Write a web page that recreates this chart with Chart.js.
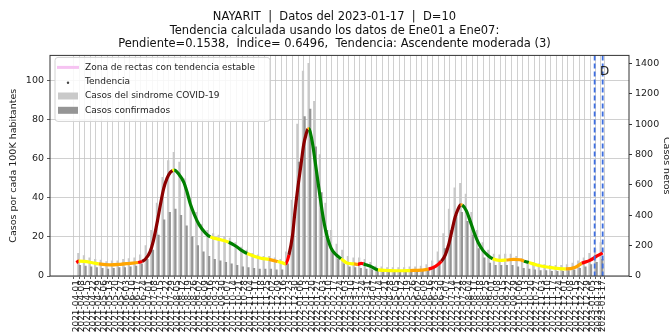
<!DOCTYPE html>
<html>
<head>
<meta charset="utf-8">
<title>NAYARIT tendencia</title>
<script src="https://cdn.jsdelivr.net/npm/chart.js@4.4.1/dist/chart.umd.min.js"></script>
<style>
  body { margin: 0; background: #fff; }
  #wrap { width: 669px; height: 334px; }
</style>
</head>
<body>
<div id="wrap"><canvas id="myChart"></canvas></div>
<script>
'use strict';
/*------------- data -------------*/
const titleLines = [
  'NAYARIT  |  Datos del 2023-01-17  |  D=10',
  'Tendencia calculada usando los datos de Ene01 a Ene07:',
  'Pendiente=0.1538,  Índice= 0.6496,  Tendencia: Ascendente moderada (3)'
];
const tickLabels = [
  '2021-04-01', '2021-04-08', '2021-04-15', '2021-04-22', '2021-04-29', '2021-05-06', '2021-05-13', '2021-05-20', '2021-05-27',
  '2021-06-03', '2021-06-10', '2021-06-17', '2021-06-24', '2021-07-01', '2021-07-08', '2021-07-15', '2021-07-22', '2021-07-29',
  '2021-08-05', '2021-08-12', '2021-08-19', '2021-08-26', '2021-09-02', '2021-09-09', '2021-09-16', '2021-09-23', '2021-09-30',
  '2021-10-07', '2021-10-14', '2021-10-21', '2021-10-28', '2021-11-04', '2021-11-11', '2021-11-18', '2021-11-25', '2021-12-02',
  '2021-12-09', '2021-12-16', '2021-12-23', '2021-12-30', '2022-01-06', '2022-01-13', '2022-01-20', '2022-01-27', '2022-02-03',
  '2022-02-10', '2022-02-17', '2022-02-24', '2022-03-03', '2022-03-10', '2022-03-17', '2022-03-24', '2022-03-31', '2022-04-07',
  '2022-04-14', '2022-04-21', '2022-04-28', '2022-05-05', '2022-05-12', '2022-05-19', '2022-05-26', '2022-06-02', '2022-06-09',
  '2022-06-16', '2022-06-23', '2022-06-30', '2022-07-07', '2022-07-14', '2022-07-21', '2022-07-28', '2022-08-04', '2022-08-11',
  '2022-08-18', '2022-08-25', '2022-09-01', '2022-09-08', '2022-09-15', '2022-09-22', '2022-09-29', '2022-10-06', '2022-10-13',
  '2022-10-20', '2022-10-27', '2022-11-03', '2022-11-10', '2022-11-17', '2022-11-24', '2022-12-01', '2022-12-08', '2022-12-15',
  '2022-12-22', '2022-12-29', '2023-01-05', '2023-01-12', '2023-01-17'
];
const leftTicks = [0, 20, 40, 60, 80, 100];
const rightTicks = [0, 200, 400, 600, 800, 1000, 1200, 1400];
// trend (casos por cada 100K) : day since 2021-04-01, value, colour code
const trendDay = [0, 3, 10, 20, 28, 42, 55, 67, 77, 82, 86, 92, 96, 101, 105, 109, 113, 117, 120, 122,
  128, 134, 138, 142, 147, 153, 161, 167, 180, 190, 198, 205, 213, 230, 240, 251, 258, 261, 265, 269.5,
  272.5, 276, 280, 283.5, 286.5, 288.5, 290, 291.5, 294.5, 297.5, 301, 304, 307, 311, 317.5, 324, 330, 338, 346, 351,
  355, 358, 361, 367.5, 373, 376, 390, 405, 416, 430, 439, 447, 455, 460, 464, 468, 472, 476, 479, 481,
  486, 491, 496, 501, 507, 513, 519, 527, 536, 545, 553, 558, 564, 575, 590, 602, 610, 622, 630, 640,
  648, 656];
const trendValue = [6.9, 7.6, 7.5, 6.8, 6.2, 5.7, 6.0, 6.5, 6.9, 7.5, 8.6, 12.5, 18, 28, 37, 45, 50, 53, 54, 54.2,
  52, 48, 43, 37, 31.5, 26.3, 22, 20, 18.6, 17.3, 15.5, 13.4, 11.5, 9.1, 8.5, 7.4, 6.6, 6.2, 10.8, 21,
  33, 45, 57, 67.6, 72.8, 75.2, 75.4, 73.7, 67.6, 59, 48.7, 40, 31.5, 22.9, 14.3, 10.8, 8.8, 6.5, 6.2, 6.0,
  6.5, 6.2, 5.7, 4.8, 3.6, 3.1, 2.8, 2.7, 2.8, 3.0, 3.5, 4.8, 7.5, 11, 16, 23, 30, 34.5, 36.5, 36.3,
  33.5, 28, 22, 17, 13, 10.5, 8.8, 8.0, 8.2, 8.5, 8.3, 7.6, 6.9, 5.5, 4.4, 3.8, 3.6, 4.5, 6.5, 8,
  10, 11.8];
const trendTone = ['R', 'Y', 'Y', 'Y', 'O', 'O', 'O', 'O', 'R', 'D', 'D', 'D', 'D', 'D', 'D', 'D', 'D', 'D', 'Y', 'G',
  'G', 'G', 'G', 'G', 'G', 'G', 'G', 'Y', 'Y', 'G', 'G', 'G', 'Y', 'Y', 'O', 'Y', 'Y', 'R', 'D', 'D',
  'D', 'D', 'D', 'D', 'D', 'O', 'G', 'G', 'G', 'G', 'G', 'G', 'G', 'G', 'G', 'G', 'Y', 'Y', 'O', 'R',
  'R', 'G', 'G', 'G', 'G', 'Y', 'Y', 'Y', 'O', 'O', 'R', 'R', 'D', 'D', 'D', 'D', 'D', 'D', 'O', 'G',
  'G', 'G', 'G', 'G', 'G', 'G', 'Y', 'Y', 'O', 'O', 'O', 'G', 'Y', 'Y', 'Y', 'Y', 'O', 'O', 'R', 'R',
  'R', 'R'];
// weekly cases (casos netos)
const syndromeCases = [150, 135, 120, 110, 105, 95, 100, 100, 110, 115, 120, 140, 200, 300, 480, 650, 760, 815, 750, 640,
  520, 420, 340, 300, 280, 270, 260, 250, 220, 190, 170, 150, 140, 130, 130, 120, 110, 160, 500, 1000,
  1350, 1400, 1150, 800, 480, 300, 210, 170, 130, 120, 120, 110, 90, 65, 60, 55, 55, 55, 55, 60,
  60, 65, 75, 100, 160, 280, 440, 580, 610, 540, 420, 300, 220, 170, 145, 140, 145, 145, 130, 115,
  100, 90, 80, 75, 70, 70, 70, 75, 85, 100, 120, 150, 180, 220];
const confirmedCases = [70, 65, 60, 55, 50, 45, 50, 55, 55, 60, 65, 80, 110, 170, 270, 370, 420, 440, 400, 330,
  260, 200, 160, 130, 110, 100, 90, 80, 70, 60, 55, 50, 45, 45, 45, 40, 40, 80, 330, 750,
  1050, 1100, 850, 550, 300, 170, 110, 80, 60, 55, 50, 45, 40, 30, 25, 25, 25, 25, 25, 30,
  30, 30, 40, 55, 100, 180, 300, 400, 420, 360, 270, 180, 120, 85, 70, 70, 70, 70, 60, 50,
  45, 40, 35, 35, 30, 30, 30, 35, 40, 50, 60, 75, 90, 110];
const markerDates = ['2023-01-07', '2023-01-17'];
/*------------------------------------------------------*/
const toneColors = { D: '#8b0000', R: '#ff0000', O: '#ffa500', Y: '#ffff00', G: '#008000' };
const startTime = Date.parse(tickLabels[0]);
function dayOf(label) {
  return (Date.parse(label) - startTime) / 86400000;
}
const tickDays = tickLabels.map(dayOf);
const lastDay = tickDays[tickDays.length - 1];
const xPad = lastDay * 0.05; // matplotlib-like margins

let trendPoints = [];
for (let i = 0; i < trendDay.length; i++) {
  trendPoints.push({ x: trendDay[i], y: trendValue[i] });
}
let syndromePoints = [];
let confirmedPoints = [];
for (let i = 0; i < syndromeCases.length; i++) {
  syndromePoints.push({ x: tickDays[i] + 2.5, y: syndromeCases[i] });
  confirmedPoints.push({ x: tickDays[i] + 4.5, y: confirmedCases[i] });
}

Chart.defaults.font.family = "'DejaVu Sans', sans-serif";
Chart.defaults.color = '#222';

/******* spines, vertical markers and the boxed legend ********/
const extrasPlugin = {
  id: 'extras',
  afterDatasetsDraw(chart) {
    const ctx = chart.ctx;
    const a = chart.chartArea;
    const xs = chart.scales.x;
    ctx.save();
    // dashed blue lines
    ctx.strokeStyle = '#3d6ee0';
    ctx.lineWidth = 1.8;
    ctx.setLineDash([5, 3]);
    markerDates.forEach(function (d) {
      const px = xs.getPixelForValue(dayOf(d));
      ctx.beginPath();
      ctx.moveTo(px, a.top);
      ctx.lineTo(px, a.bottom);
      ctx.stroke();
    });
    ctx.setLineDash([]);
    ctx.fillStyle = '#222';
    ctx.font = "12px 'DejaVu Sans'";
    ctx.textAlign = 'center';
    ctx.textBaseline = 'middle';
    ctx.fillText('D', xs.getPixelForValue(dayOf(markerDates[1])) + 2, a.top + 16);
    // box around plot
    ctx.strokeStyle = '#333';
    ctx.lineWidth = 1;
    ctx.strokeRect(a.left, a.top, a.right - a.left, a.bottom - a.top);

    // legend
    const lx = a.left + 5;
    const ly = a.top + 2;
    const lw = 215;
    const lh = 64;
    ctx.fillStyle = 'rgba(255,255,255,0.85)';
    ctx.strokeStyle = '#d2d2d2';
    ctx.beginPath();
    ctx.roundRect(lx, ly, lw, lh, 3);
    ctx.fill();
    ctx.stroke();
    ctx.font = "9px 'DejaVu Sans'";
    ctx.textAlign = 'left';
    const sets = chart.data.datasets;
    for (let i = 0; i < sets.length; i++) {
      const ry = ly + 10 + i * 14.3;
      const ds = sets[i];
      if (ds.legendKind === 'line') {
        ctx.strokeStyle = ds.borderColor;
        ctx.lineWidth = 3;
        ctx.beginPath();
        ctx.moveTo(lx + 2, ry);
        ctx.lineTo(lx + 24, ry);
        ctx.stroke();
      } else if (ds.legendKind === 'dot') {
        ctx.fillStyle = '#444';
        ctx.beginPath();
        ctx.arc(lx + 13, ry + 1, 1.2, 0, Math.PI * 2);
        ctx.fill();
      } else {
        ctx.fillStyle = ds.backgroundColor;
        ctx.fillRect(lx + 3, ry - 3.5, 20, 7);
      }
      ctx.fillStyle = '#222';
      ctx.fillText(ds.label, lx + 30, ry);
    }
    ctx.restore();
  }
};

function useTicks(values) {
  return function (scale) {
    scale.ticks = values.map(v => ({ value: v }));
  };
}

let ctx = document.getElementById('myChart').getContext('2d');
let chart = new Chart(ctx, {
  type: 'bar',
  data: {
    datasets: [
      {
        type: 'line',
        label: 'Zona de rectas con tendencia estable',
        legendKind: 'line',
        data: [],
        borderColor: '#f6c3f2',
        yAxisID: 'y'
      },
      {
        type: 'line',
        label: 'Tendencia',
        legendKind: 'dot',
        data: trendPoints,
        yAxisID: 'y',
        order: 0,
        borderWidth: 3.2,
        pointRadius: 0,
        cubicInterpolationMode: 'monotone',
        segment: {
          borderColor: c => toneColors[trendTone[c.p0DataIndex]]
        }
      },
      {
        label: 'Casos del sindrome COVID-19',
        data: syndromePoints,
        backgroundColor: '#c9c9c9',
        yAxisID: 'y2',
        order: 2,
        barThickness: 1.6,
        grouped: false
      },
      {
        label: 'Casos confirmados',
        data: confirmedPoints,
        backgroundColor: '#959595',
        yAxisID: 'y2',
        order: 1,
        barThickness: 1.6,
        grouped: false
      }
    ]
  },
  options: {
    responsive: true,
    maintainAspectRatio: false,
    animation: false,
    layout: { padding: 0 },
    plugins: {
      legend: { display: false },
      tooltip: { enabled: false },
      title: {
        display: true,
        text: titleLines,
        color: '#111',
        font: { size: 11.5, weight: 'normal' },
        lineHeight: 1.245,
        padding: { top: 10, bottom: 4 }
      }
    },
    scales: {
      x: {
        type: 'linear',
        offset: false,
        min: -xPad,
        max: lastDay + xPad,
        afterBuildTicks: useTicks(tickDays),
        afterFit: function (scale) { scale.height = 58; },
        grid: { color: '#c4c4c4', lineWidth: 0.8, tickColor: '#333', tickLength: 3 },
        border: { display: false },
        ticks: {
          autoSkip: false,
          maxRotation: 90,
          minRotation: 90,
          padding: 1,
          font: { size: 9 },
          callback: (value, index) => tickLabels[index]
        }
      },
      y: {
        position: 'left',
        min: 0,
        max: 113,
        afterBuildTicks: useTicks(leftTicks),
        afterFit: function (scale) { scale.width = 50; },
        grid: { color: '#c4c4c4', lineWidth: 0.8, tickColor: '#333', tickLength: 3 },
        border: { display: false },
        ticks: { autoSkip: false, padding: 3, font: { size: 9.5 } },
        title: {
          display: true,
          text: 'Casos por cada 100K habitantes',
          font: { size: 9.5 },
          padding: { top: 8, bottom: 2 }
        }
      },
      y2: {
        position: 'right',
        min: 0,
        max: 1453,
        afterBuildTicks: useTicks(rightTicks),
        afterFit: function (scale) { scale.width = 40; },
        grid: { drawOnChartArea: false, tickColor: '#333', tickLength: 3 },
        border: { display: false },
        ticks: { autoSkip: false, padding: 3, font: { size: 9.5 }, callback: v => String(v) },
        title: {
          display: true,
          text: 'Casos netos',
          font: { size: 9.5 },
          padding: { top: -3, bottom: 0 }
        }
      }
    }
  },
  plugins: [extrasPlugin]
});
</script>
</body>
</html>
